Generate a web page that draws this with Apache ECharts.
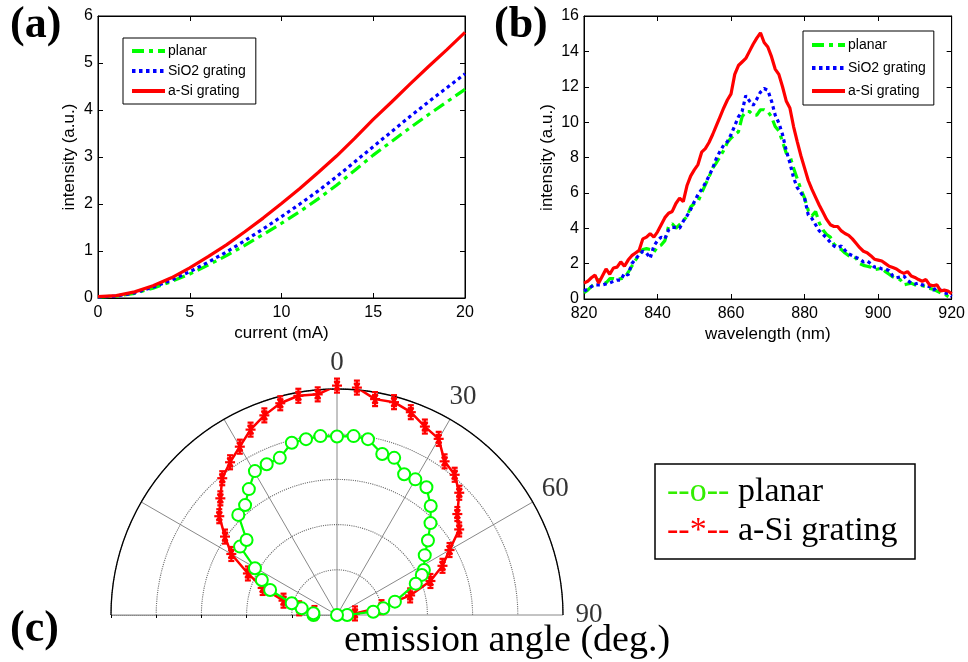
<!DOCTYPE html>
<html><head><meta charset="utf-8">
<script src="https://cdn.jsdelivr.net/npm/echarts@6/dist/echarts.min.js"></script>
<style>html,body{margin:0;padding:0;background:#fff}#c{width:968px;height:662px}</style>
</head><body><div id="c"></div>
<script>
// ---- panel (a): intensity vs current ----
const currentMA = [0,1,2,3,4,5,6,7,8,9,10,11,12,13,14,15,16,17,18,19,20];
const planarA = [0.02,0.04,0.10,0.21,0.35,0.51,0.70,0.90,1.12,1.35,1.59,1.84,2.11,2.40,2.72,3.04,3.33,3.62,3.90,4.17,4.44];
const sio2A   = [0.02,0.04,0.11,0.23,0.38,0.56,0.76,0.98,1.22,1.47,1.73,2.00,2.28,2.58,2.90,3.22,3.54,3.86,4.17,4.47,4.77];
const asiA    = [0.03,0.05,0.13,0.26,0.43,0.64,0.88,1.13,1.41,1.70,2.01,2.33,2.67,3.02,3.40,3.80,4.17,4.55,4.92,5.28,5.65];

// ---- panel (b): spectra ----
const wavelength = [820,821,822,823,824,825,826,827,828,829,830,831,832,833,834,835,836,837,838,839,
  840,841,842,843,844,845,846,847,848,849,850,851,852,853,854,855,856,857,858,859,
  860,861,862,863,864,865,866,867,868,869,870,871,872,873,874,875,876,877,878,879,
  880,881,882,883,884,885,886,887,888,889,890,891,892,893,894,895,896,897,898,899,
  900,901,902,903,904,905,906,907,908,909,910,911,912,913,914,915,916,917,918,919,920];
const planarB = [0.35,0.5,0.7,0.9,1.1,1.0,0.9,1.15,1.15,1.1,
  1.15,1.2,1.5,1.85,2.2,2.5,2.8,2.85,2.8,2.65,
  2.95,3.05,3.3,4.1,4.25,4.0,4.2,4.45,4.65,5.2,
  5.4,5.5,6.0,6.45,6.9,7.4,7.7,8.05,8.4,8.85,
  9.1,9.3,9.45,10.3,10.6,10.6,10.4,10.4,10.7,10.7,
  10.6,10.3,9.75,9.5,8.9,8.25,8.1,7.4,6.8,6.2,
  5.7,5.0,4.7,4.95,4.3,3.9,3.65,3.5,3.1,2.9,
  2.8,2.6,2.45,2.4,2.3,2.0,1.9,1.85,1.8,1.65,
  1.7,1.7,1.55,1.4,1.25,1.15,1.1,0.8,0.85,0.9,
  0.8,0.8,0.75,0.7,0.6,0.55,0.45,0.35,0.3,0.15,0.05];
const sio2B = [0.45,0.55,0.7,0.8,0.8,0.8,0.85,0.9,1.0,1.07,
  1.07,1.45,1.35,2.0,2.25,2.5,2.7,2.6,2.3,3.0,
  3.3,3.5,3.4,3.9,4.05,4.05,4.0,4.4,4.7,5.05,
  5.5,5.9,6.2,6.55,6.95,7.4,7.95,8.35,8.7,8.9,
  9.3,9.8,10.3,10.6,11.5,11.2,10.95,11.3,11.7,11.9,
  11.8,11.2,10.4,9.95,9.3,8.4,7.7,6.85,6.3,6.0,
  5.7,4.75,4.55,4.2,3.85,3.65,3.45,3.2,3.0,2.9,
  3.0,2.75,2.55,2.45,2.35,2.25,2.1,2.15,2.0,1.8,
  1.8,1.7,1.7,1.6,1.3,1.2,1.25,1.3,1.05,0.9,
  0.85,0.9,0.8,0.75,0.7,0.5,0.65,0.5,0.35,0.3,0.15];
const asiB = [0.9,1.0,1.2,1.35,0.9,1.3,1.7,1.4,1.75,1.8,
  2.1,1.85,2.2,2.45,2.6,2.75,3.4,3.5,3.7,3.5,
  3.8,4.2,4.6,4.85,4.95,5.4,5.7,5.5,6.4,6.95,
  7.3,7.6,8.3,8.5,8.85,9.3,9.8,10.3,10.8,11.25,
  11.6,12.7,13.2,13.4,13.6,14.0,14.4,14.75,15.05,14.5,
  14.25,13.7,13.0,12.7,12.0,11.2,10.8,9.75,8.9,8.1,
  7.4,6.7,6.2,5.75,5.3,4.9,4.5,4.2,4.1,4.1,
  3.85,3.7,3.6,3.4,3.15,2.9,2.7,2.62,2.45,2.25,
  2.2,2.15,2.0,1.85,1.78,1.7,1.55,1.45,1.55,1.3,
  1.22,1.1,1.0,1.1,0.8,0.75,0.8,0.45,0.5,0.45,0.3];

// ---- panel (c): emission pattern (angle in deg from normal, relative radius) ----
const asiAngles = [-85,-80,-75,-70,-65,-60,-55,-50,-45,-40,-35,-30,-25,-20,-15,-10,-5,0,5,10,15,20,25,30,35,40,45,50,55,60,65,70,75,80,85];
const asiR = [0.10,0.17,0.245,0.35,0.435,0.54,0.605,0.68,0.73,0.79,0.825,0.86,0.905,0.94,0.97,0.985,0.98,1.015,1.01,0.97,0.975,0.955,0.92,0.90,0.83,0.81,0.765,0.695,0.66,0.575,0.515,0.44,0.335,0.20,0.08];
const planarAngles = [-90,-85.9,-79.3,-75.5,-69.5,-65,-60.3,-54.8,-50.3,-44.6,-39.9,-35,-29.7,-25,-20,-14.7,-10,-5.3,0,5.3,10,15.7,20,25.5,30,35,40.7,45.5,50.7,55.7,62.6,64.7,68.3,77,81.8,84.8,90,90];
const planarR = [0.104,0.105,0.159,0.207,0.316,0.367,0.418,0.525,0.52,0.622,0.634,0.68,0.733,0.736,0.74,0.788,0.79,0.795,0.79,0.795,0.79,0.74,0.74,0.69,0.693,0.69,0.636,0.58,0.52,0.47,0.433,0.415,0.375,0.263,0.207,0.161,0.045,0.0];
const angleTickLabels = [0,30,60,90];

const GREEN = '#00ff00', BLUE = '#0000ff', RED = '#ff0000';
const SANS = 'Liberation Sans, Arial, sans-serif';
const SERIF = 'Liberation Serif, Times New Roman, serif';
const pairs = (xs, ys) => xs.map((x, i) => [x, ys[i]]);

function mkX(grid, min, max, iv, name, top) {
  return {
    type: 'value', gridIndex: grid, min, max, interval: iv, position: top ? 'top' : 'bottom',
    name: top ? '' : name, nameLocation: 'middle', nameGap: 27,
    nameTextStyle: { fontSize: 17, fontFamily: SANS, color: '#000' },
    axisLine: { show: true, onZero: false, lineStyle: { color: '#000', width: 1 } },
    axisTick: { show: true, inside: true, length: 5, lineStyle: { color: '#000' } },
    axisLabel: { show: !top, margin: 7, fontSize: 16, fontFamily: SANS, color: '#000' },
    splitLine: { show: false }
  };
}
function mkY(grid, min, max, iv, name, right, gap) {
  return {
    type: 'value', gridIndex: grid, min, max, interval: iv, position: right ? 'right' : 'left',
    name: right ? '' : name, nameLocation: 'middle', nameGap: gap,
    nameTextStyle: { fontSize: 17, fontFamily: SANS, color: '#000' },
    axisLine: { show: true, onZero: false, lineStyle: { color: '#000', width: 1 } },
    axisTick: { show: true, inside: true, length: 5, lineStyle: { color: '#000' } },
    axisLabel: { show: !right, margin: 5, fontSize: 16, fontFamily: SANS, color: '#000' },
    splitLine: { show: false }
  };
}
const styleG = { color: GREEN, width: 3.2, type: [12, 5, 4, 5] };
const styleB = { color: BLUE, width: 3.2, type: [3.5, 3.5] };
const styleR = { color: RED, width: 3.2, type: 'solid' };
function lineSeries(name, data, ls, xi, yi) {
  return { name, type: 'line', xAxisIndex: xi, yAxisIndex: yi, data, symbol: 'none', showSymbol: false,
    lineStyle: ls, itemStyle: { color: ls.color }, animation: false };
}

const chart = echarts.init(document.getElementById('c'), null, { renderer: 'canvas' });
const legendCommon = {
  orient: 'vertical', itemWidth: 33, itemHeight: 14, backgroundColor: '#fff',
  borderColor: '#000', borderWidth: 1, borderRadius: 0, selectedMode: false,
  itemStyle: { opacity: 0 },
  lineStyle: { width: 4 },
  textStyle: { fontSize: 14, fontFamily: SANS, color: '#000', padding: [0, 0, 0, -2] },
  data: ['planar', 'SiO2 grating', 'a-Si grating']
};
chart.setOption({
  animation: false,
  grid: [
    { left: 98, top: 16, width: 367, height: 282, show: true, borderColor: '#000', borderWidth: 1, backgroundColor: '#fff' },
    { left: 584, top: 16, width: 368, height: 283, show: true, borderColor: '#000', borderWidth: 1, backgroundColor: '#fff' }
  ],
  xAxis: [mkX(0, 0, 20, 5, 'current (mA)', false), mkX(0, 0, 20, 5, '', true),
          mkX(1, 820, 920, 20, 'wavelength (nm)', false), mkX(1, 820, 920, 20, '', true)],
  yAxis: [mkY(0, 0, 6, 1, 'intensity (a.u.)', false, 20), mkY(0, 0, 6, 1, '', true, 0),
          mkY(1, 0, 16, 2, 'intensity (a.u.)', false, 28), mkY(1, 0, 16, 2, '', true, 0)],
  legend: [
    Object.assign({}, legendCommon, { left: 123, top: 38, itemGap: 6, padding: [6, 10, 6, 7] }),
    Object.assign({}, legendCommon, { left: 803, top: 31, itemGap: 9, padding: [7, 8, 7, 7] })
  ],
  polar: { center: [337, 615], radius: 226 },
  angleAxis: {
    type: 'value', min: -90, max: 90, interval: 30, startAngle: 180, endAngle: 0, clockwise: true,
    axisLine: { show: true, lineStyle: { color: '#000', width: 1.3 } },
    axisTick: { show: false }, axisLabel: { show: false },
    splitLine: { show: true, lineStyle: { color: '#7a7a7a', width: 0.9 } }
  },
  radiusAxis: {
    type: 'value', min: 0, max: 1, interval: 0.2,
    axisLine: { show: true, lineStyle: { color: '#888', type: 'dotted' } },
    axisTick: { show: true, length: 3, lineStyle: { color: '#000' } },
    axisLabel: { show: false },
    splitLine: { show: true, lineStyle: { color: '#6a6a6a', type: 'dotted', width: 1.1 } }
  },
  series: [
    lineSeries('planar', pairs(currentMA, planarA), styleG, 0, 0),
    lineSeries('SiO2 grating', pairs(currentMA, sio2A), styleB, 0, 0),
    lineSeries('a-Si grating', pairs(currentMA, asiA), styleR, 0, 0),
    lineSeries('planar', pairs(wavelength, planarB), styleG, 2, 2),
    lineSeries('SiO2 grating', pairs(wavelength, sio2B), styleB, 2, 2),
    lineSeries('a-Si grating', pairs(wavelength, asiB), styleR, 2, 2),
    {
      name: 'a-Si polar', type: 'line', coordinateSystem: 'polar', clip: false,
      data: asiAngles.map((a, i) => [asiR[i], a]), symbol: 'none',
      lineStyle: { color: RED, width: 2.5 }, z: 3
    },
    {
      name: 'a-Si polar markers', type: 'custom', coordinateSystem: 'polar', clip: false, z: 4,
      data: asiAngles.map((a, i) => [asiR[i], a]),
      renderItem: function (params, api) {
        const p = api.coord([api.value(0), api.value(1)]);
        const x = p[0], y = p[1], s = 5, e = 7, c = 3;
        const segs = [
          [x - s, y, x + s, y], [x - s * 0.5, y - s * 0.87, x + s * 0.5, y + s * 0.87],
          [x - s * 0.5, y + s * 0.87, x + s * 0.5, y - s * 0.87],
          [x, y - e, x, y + e], [x - c, y - e, x + c, y - e], [x - c, y + e, x + c, y + e],
          [x - c, y - e + 3, x + c, y - e + 3], [x - c, y + e - 3, x + c, y + e - 3]
        ];
        return { type: 'group', children: segs.map(l => ({
          type: 'line', shape: { x1: l[0], y1: l[1], x2: l[2], y2: l[3] },
          style: { stroke: RED, lineWidth: 2.2 } })) };
      }
    },
    {
      name: 'planar polar', type: 'line', coordinateSystem: 'polar', clip: false,
      data: planarAngles.map((a, i) => [planarR[i], a]),
      symbol: 'emptyCircle', symbolSize: 12, showSymbol: true,
      itemStyle: { color: GREEN, borderColor: GREEN, borderWidth: 2.4 },
      lineStyle: { color: GREEN, width: 2.2 }, z: 5
    },
    {
      name: 'angle labels', type: 'scatter', coordinateSystem: 'polar', clip: false,
      data: angleTickLabels.map(a => [1.115, a]), symbolSize: 1, itemStyle: { color: 'rgba(0,0,0,0)' },
      label: { show: true, position: 'inside', formatter: p => String(p.value[1]),
        fontSize: 27, fontFamily: SERIF, color: '#000' }, z: 6
    }
  ],
  graphic: [
    { type: 'text', left: 10, top: 4, style: { text: '(a)', font: 'bold 44px ' + SERIF, fill: '#000' } },
    { type: 'text', left: 494, top: 4, style: { text: '(b)', font: 'bold 44px ' + SERIF, fill: '#000' } },
    { type: 'text', left: 10, top: 608, style: { text: '(c)', font: 'bold 44px ' + SERIF, fill: '#000' } },
    { type: 'text', left: 344, top: 622, style: { text: 'emission angle (deg.)', font: '38px ' + SERIF, fill: '#000' } },
    { type: 'rect', shape: { x: 655, y: 464, width: 260, height: 95 }, style: { fill: '#fff', stroke: '#000', lineWidth: 1.5 } },
    { type: 'text', x: 667, y: 492, style: { text: '--o--', font: '34px ' + SERIF, fill: '#33ee00', verticalAlign: 'middle' } },
    { type: 'text', x: 738, y: 492, style: { text: 'planar', font: '34px ' + SERIF, fill: '#000', verticalAlign: 'middle' } },
    { type: 'text', x: 667, y: 531, style: { text: '--*--', font: '34px ' + SERIF, fill: RED, verticalAlign: 'middle' } },
    { type: 'text', x: 738, y: 531, style: { text: 'a-Si grating', font: '34px ' + SERIF, fill: '#000', verticalAlign: 'middle' } }
  ]
});
</script></body></html>
